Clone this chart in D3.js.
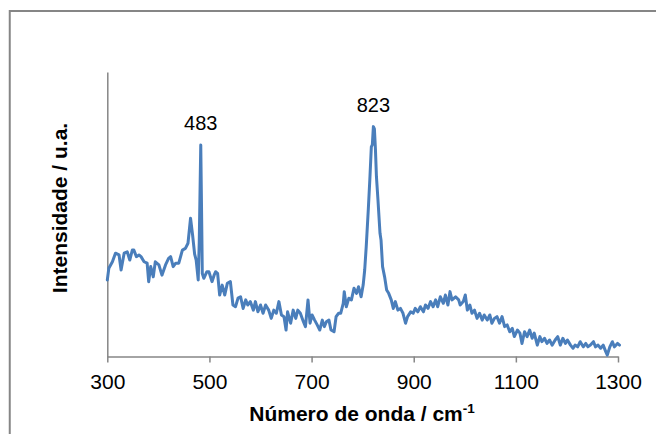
<!DOCTYPE html>
<html>
<head>
<meta charset="utf-8">
<script src="https://cdn.jsdelivr.net/npm/d3@7/dist/d3.min.js"></script>
<style>
  html, body { margin: 0; padding: 0; background: #fff; }
  svg { display: block; }
  text { font-family: "Liberation Sans", Arial, sans-serif; }
</style>
</head>
<body>
<script>
// Raman shift (cm-1)
const wavenumbers = [
  300,303,310,316,323,327,333,339,344,349,352,357,362,366,372,378,381,385,390,394,
  401,407,414,420,424,429,434,440,447,453,458,463,467,471,474,478,480,483,485,486,
  489,495,499,505,509,512,516,520,525,530,535,541,
  546,551,556,561,566,571,575,580,586,590,595,600,605,610,616,621,626,631,636,641,
  646,650,653,659,664,669,673,678,684,688,693,697,701,706,711,716,721,725,729,734,
  738,744,748,753,
  757,762,764,768,773,778,783,788,792,797,801,804,807,811,814,817,819,821,823,825,
  827,830,834,836,839,843,847,851,856,860,864,869,874,879,884,888,894,899,903,908,
  913,919,923,928,933,938,943,947,952,958,962,967,971,975,982,988,
  991,997,1001,1005,1010,1014,1019,1024,1029,1034,1038,1044,1049,1053,1058,1063,1068,1073,1078,1083,
  1088,1093,1097,1103,1108,1112,1117,1122,1127,1132,1136,1142,1147,1151,1156,1161,1166,1171,1177,1182,
  1187,1192,1197,1201,1207,1212,1216,1221,1226,1232,1237,1241,1246,1252,1256,1261,1266,1271,1276,1279,
  1284,1289,1293,1299,1303
];
// Intensity (u.a.)
const intensity = [
  26.9,31.0,33.3,36.3,35.7,30.4,36.3,36.8,33.9,37.4,37.4,35.1,35.7,35.1,33.3,32.8,26.3,31.6,28.0,33.3,
  32.2,28.6,32.2,34.5,35.1,31.6,32.8,32.8,37.4,38.0,39.8,48.6,42.7,36.0,33.9,26.9,40.0,74.3,45.0,29.2,
  27.5,29.8,29.8,26.3,28.5,29.8,29.2,21.6,25.1,21.6,25.7,26.3,
  18.1,17.5,20.5,21.0,16.9,19.9,18.1,19.3,16.3,19.3,15.7,18.1,15.2,18.1,16.3,13.4,16.3,15.2,19.3,14.6,
  14.0,9.3,15.7,11.7,16.3,13.4,16.3,15.2,12.2,10.5,19.9,11.7,14.6,12.8,11.1,9.3,12.8,10.5,12.2,12.8,
  9.3,8.7,14.0,15.2,
  15.2,18.7,22.8,17.5,20.5,19.9,24.0,22.2,24.5,21.0,25.1,30.4,38.6,51.5,62.0,73.7,74.5,80.8,80.0,73.0,
  63.2,55.0,43.3,40.9,31.6,28.0,23.4,22.2,19.9,16.9,19.3,16.3,16.9,15.2,11.7,14.0,15.7,15.2,16.9,15.7,
  17.5,15.7,18.1,16.9,19.3,17.5,19.9,17.5,21.0,18.7,21.6,18.1,22.8,19.9,21.0,19.9,
  18.1,19.3,21.6,16.3,18.1,15.2,16.3,13.4,15.2,12.8,14.6,12.8,14.6,11.7,13.4,14.0,11.7,14.0,10.5,11.1,
  8.7,9.9,7.0,9.3,8.2,4.6,8.7,7.0,9.3,6.4,8.2,4.0,7.0,5.2,6.4,4.6,5.8,4.0,5.8,7.0,
  4.0,6.4,4.6,5.8,4.0,2.9,4.0,3.4,5.2,3.4,4.6,3.4,4.0,5.2,3.4,4.0,2.9,4.0,1.7,0.5,
  3.4,5.2,3.4,4.6,4.0
];
const xTickValues = [300, 500, 700, 900, 1100, 1300];
const peakLabels = ["483", "823"];
const peakPositions = [483, 821];
const peakHeights = [74.3, 80.8];

const W = 656, H = 434;
const svg = d3.select("body").append("svg").attr("width", W).attr("height", H);

// outer chart border
svg.append("rect")
  .attr("x", 9.75).attr("y", 11).attr("width", 800).attr("height", 600)
  .attr("fill", "none").attr("stroke", "#868686").attr("stroke-width", 2);

const x = d3.scaleLinear().domain([300, 1300]).range([107.3, 618]);
const y = d3.scaleLinear().domain([0, 100]).range([356.5, 72]);

const axisColor = "#868686";

// x axis
const gx = svg.append("g").attr("transform", `translate(0,${y(0)})`)
  .call(d3.axisBottom(x).tickValues(xTickValues).tickFormat(d3.format("d"))
    .tickSize(6).tickSizeOuter(0).tickPadding(4));
gx.select(".domain").attr("stroke", axisColor).attr("stroke-width", 1.5);
gx.selectAll(".tick line").attr("stroke", axisColor).attr("stroke-width", 1.5);
gx.selectAll(".tick text")
  .attr("font-family", "'Liberation Sans', Arial, sans-serif")
  .attr("font-size", 21).attr("fill", "#000")
  .attr("dy", null).attr("y", 32.5);

// y axis (line only)
const gy = svg.append("g").attr("transform", `translate(${x(300)},0)`)
  .call(d3.axisLeft(y).tickValues([]).tickSizeOuter(0));
gy.select(".domain").attr("stroke", axisColor).attr("stroke-width", 1.5);

// spectrum line
const data = wavenumbers.map((w, i) => [w, intensity[i]]);
svg.append("path")
  .datum(data)
  .attr("fill", "none")
  .attr("stroke", "#4a7ebb")
  .attr("stroke-width", 3)
  .attr("stroke-linejoin", "round")
  .attr("stroke-linecap", "round")
  .attr("d", d3.line().x(d => x(d[0])).y(d => y(d[1])));

// peak labels
svg.selectAll(".peak").data(peakLabels).enter().append("text")
  .attr("class", "peak")
  .attr("x", (d, i) => x(peakPositions[i]))
  .attr("y", (d, i) => y(peakHeights[i]) - 15)
  .attr("text-anchor", "middle")
  .attr("font-size", 20)
  .attr("fill", "#000")
  .text(d => d);

// x axis title
const xt = svg.append("text")
  .attr("x", 362).attr("y", 421)
  .attr("text-anchor", "middle")
  .attr("font-size", 21).attr("font-weight", "bold").attr("fill", "#000");
xt.append("tspan").text("Número de onda / cm");
xt.append("tspan").attr("font-size", 13.5).attr("dy", -8).text("-1");

// y axis title
svg.append("text")
  .attr("transform", "translate(67,208) rotate(-90)")
  .attr("text-anchor", "middle")
  .attr("font-size", 21).attr("font-weight", "bold").attr("fill", "#000")
  .text("Intensidade / u.a.");
</script>
</body>
</html>
